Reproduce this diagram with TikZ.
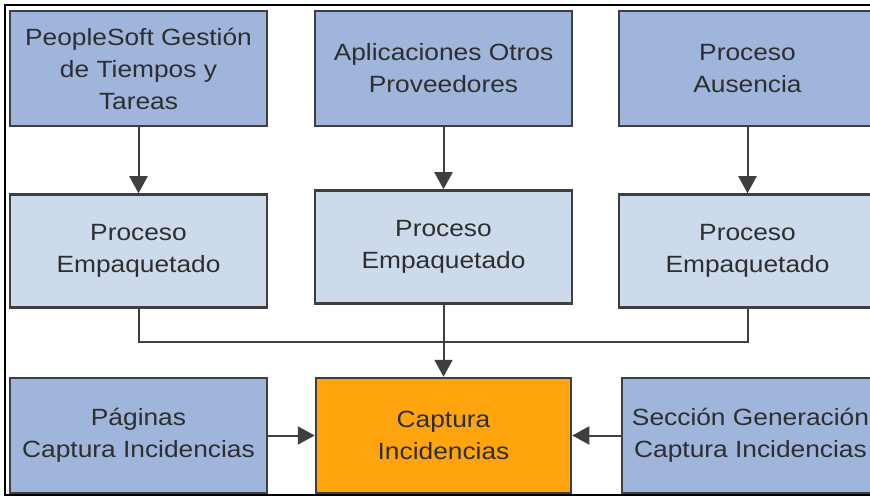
\documentclass[tikz,border=0pt]{standalone}
\usepackage{fontspec}
\setmainfont[FakeStretch=1.12]{Liberation Sans}
\usetikzlibrary{arrows.meta}
\definecolor{topblue}{HTML}{9FB5DB}
\definecolor{midblue}{HTML}{CDDAEC}
\definecolor{orangebox}{HTML}{FFA40D}
\definecolor{edge}{HTML}{3F3F3F}
\definecolor{txt}{HTML}{2E2E2E}
\tikzset{
  box/.style={draw=edge, line width=2.5pt, minimum width=257pt, inner sep=0pt,
    align=center, text=txt, font=\fontsize{23.5}{32}\selectfont},
  topbox/.style={box, fill=topblue, minimum height=115pt},
  midbox/.style={box, fill=midblue, minimum height=113pt},
  capbox/.style={box, fill=orangebox, minimum height=115pt, minimum width=255pt},
  link/.style={draw=edge, line width=2pt},
  arr/.style={link, -{Triangle[width=18pt,length=17pt]}}
}
\begin{document}
\begin{tikzpicture}[x=1pt,y=-1pt]
\useasboundingbox (0,0) rectangle (870,497);
\fill[white] (0,0) rectangle (870,497);
\draw[black, line width=2pt] (5,5) rectangle (882,495);
% top row
\node[topbox] (A1) at (138.5,68.5) {PeopleSoft Gestión\\de Tiempos y\\Tareas};
\node[topbox] (A2) at (443.5,68.5) {Aplicaciones Otros\\Proveedores};
\node[topbox] (A3) at (747.5,68.5) {Proceso\\Ausencia};
% middle row
\node[midbox] (B1) at (138.5,251) {Proceso\\Empaquetado};
\node[midbox] (B2) at (443.5,247) {Proceso\\Empaquetado};
\node[midbox] (B3) at (747.5,251) {Proceso\\Empaquetado};
% bottom row
\node[topbox] (C1) at (138.5,435.5) {Páginas\\Captura Incidencias};
\node[capbox] (C2) at (443.5,435.5) {Captura\\Incidencias};
\node[topbox] (C3) at (750.5,435.5) {Sección Generación\\Captura Incidencias};
% connectors
\draw[arr] (A1) -- (B1);
\draw[arr] (A2) -- (B2);
\draw[arr] (A3) -- (B3);
\coordinate (J) at (443.5,342);
\draw[link] (B1.south) |- (J);
\draw[link] (B3.south) |- (J);
\draw[arr] (B2.south) -- (C2.north);
\draw[arr] (C1.east) -- (C2.west);
\draw[arr] (C3.west) -- (C2.east);
\end{tikzpicture}
\end{document}
